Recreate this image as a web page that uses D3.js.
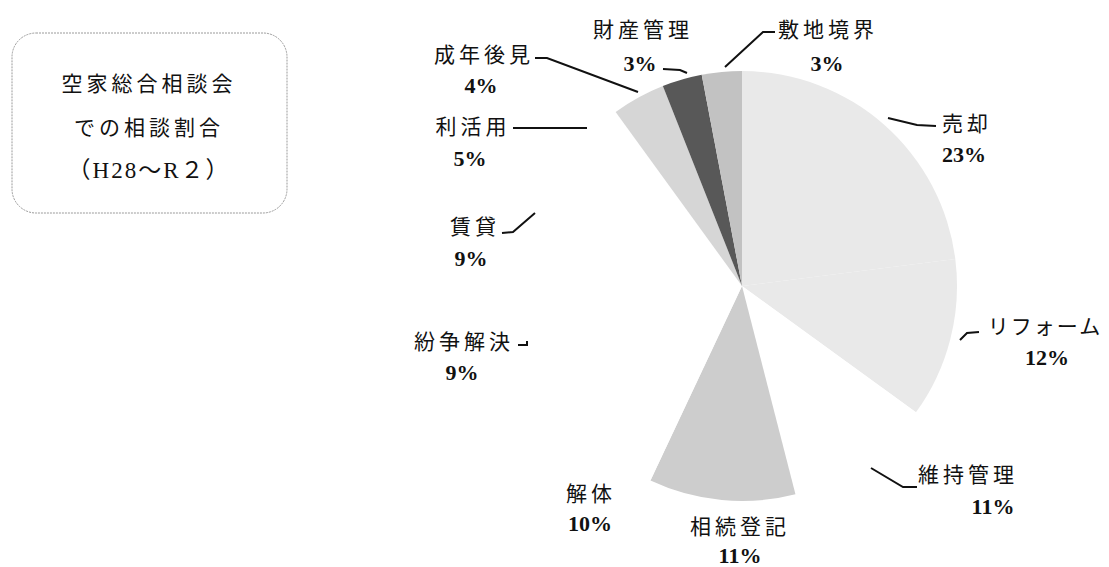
<!DOCTYPE html>
<html>
<head>
<meta charset="utf-8">
<script src="https://cdn.jsdelivr.net/npm/d3@7"></script>
<style>
  body { margin: 0; background: #fff; }
  .lbl { font-family: "Noto Sans CJK JP", sans-serif; font-size: 21px; fill: #111; letter-spacing: 4px; dominant-baseline: central; }
  .pct { font-family: "Liberation Serif", serif; font-size: 22px; font-weight: bold; fill: #111; dominant-baseline: central; }
  .ttl { font-family: "Noto Sans CJK JP", sans-serif; font-size: 21px; fill: #111; letter-spacing: 4px; dominant-baseline: central; }
</style>
</head>
<body>
<script>
(function(){

//data
var categories = ["売却", "リフォーム", "維持管理", "相続登記", "解体", "紛争解決", "賃貸", "利活用", "成年後見", "財産管理", "敷地境界"];
var shares = [23, 12, 11, 11, 10, 9, 9, 5, 4, 3, 3];
var titleLines = ["空家総合相談会", "での相談割合", "（H28〜R２）"];

//slice fills (scanned halftone greys, white = not printed)
var fills = ["#e9e9e9", "#e9e9e9", "#ffffff", "#cdcdcd", "#ffffff", "#ffffff", "#ffffff", "#ffffff", "#d6d6d6", "#585858", "#c2c2c2"];

//label layout: label centre, percent centre, leader polyline
var layout = [
  {x: 965, y: 122, px: 964, py: 154, line: [[888, 118], [917, 125], [936, 126]]},
  {x: 1043, y: 325, px: 1047, py: 357, line: [[960, 340], [967, 333], [979, 332]]},
  {x: 966, y: 473, px: 993, py: 506, line: [[871, 468], [903, 487], [917, 487]]},
  {x: 738, y: 525, px: 740, py: 555, line: null},
  {x: 589, y: 492, px: 590, py: 523, line: null},
  {x: 462, y: 340, px: 462, py: 372, line: [[518, 345], [527, 345], [527, 341]]},
  {x: 473, y: 225, px: 471, py: 258, line: [[502, 233], [513, 232], [535, 213]]},
  {x: 471, y: 125, px: 470, py: 158, line: [[513, 128], [587, 128]]},
  {x: 482, y: 53, px: 481, py: 85, line: [[535, 58], [547, 58], [638, 92]]},
  {x: 641, y: 28, px: 640, py: 63, line: [[663, 69], [680, 70], [687, 73]]},
  {x: 826, y: 28, px: 827, py: 63, line: [[775, 32], [763, 32], [725, 67]]}
];

var width = 1109, height = 567;
var cx = 742, cy = 286, r = 215;

var svg = d3.select("body").append("svg")
  .attr("width", width)
  .attr("height", height);

//title box
var box = svg.append("g");
box.append("rect")
  .attr("x", 12).attr("y", 33)
  .attr("width", 275).attr("height", 180)
  .attr("rx", 24).attr("ry", 24)
  .attr("fill", "none")
  .attr("stroke", "#9a9a9a")
  .attr("stroke-width", 1)
  .attr("stroke-dasharray", "2,1");
box.selectAll("text")
  .data(titleLines)
  .enter().append("text")
  .attr("class", "ttl")
  .attr("x", 149)
  .attr("y", function(d, i){ return 82 + i * 44; })
  .attr("text-anchor", "middle")
  .style("font-family", function(d, i){ return i == 2 ? "'Liberation Serif', 'Noto Sans CJK JP', serif" : null; })
  .style("font-size", function(d, i){ return i == 2 ? "23px" : null; })
  .style("letter-spacing", function(d, i){ return i == 2 ? "2px" : null; })
  .text(function(d){ return d; });

//pie
var pie = d3.pie().sort(null).value(function(d){ return d; });
var arc = d3.arc().innerRadius(0).outerRadius(r);
var arcs = pie(shares);

var g = svg.append("g").attr("transform", "translate(" + cx + "," + cy + ")");
g.selectAll("path.slice")
  .data(arcs)
  .enter().append("path")
  .attr("class", "slice")
  .attr("d", arc)
  .attr("fill", function(d, i){ return fills[i]; });

//leader lines
var line = d3.line();
svg.selectAll("path.leader")
  .data(layout.filter(function(d){ return d.line; }))
  .enter().append("path")
  .attr("class", "leader")
  .attr("d", function(d){ return line(d.line); })
  .attr("fill", "none")
  .attr("stroke", "#111")
  .attr("stroke-width", 2);

//labels
var labels = svg.selectAll("g.label")
  .data(categories)
  .enter().append("g")
  .attr("class", "label");
labels.append("text")
  .attr("class", "lbl")
  .attr("x", function(d, i){ return layout[i].x + 2; })
  .attr("y", function(d, i){ return layout[i].y; })
  .attr("text-anchor", "middle")
  .style("letter-spacing", function(d, i){ return i == 1 ? "2px" : null; })
  .text(function(d){ return d; });
labels.append("text")
  .attr("class", "pct")
  .attr("x", function(d, i){ return layout[i].px; })
  .attr("y", function(d, i){ return layout[i].py; })
  .attr("text-anchor", "middle")
  .text(function(d, i){ return shares[i] + "%"; });

})();
</script>
</body>
</html>
